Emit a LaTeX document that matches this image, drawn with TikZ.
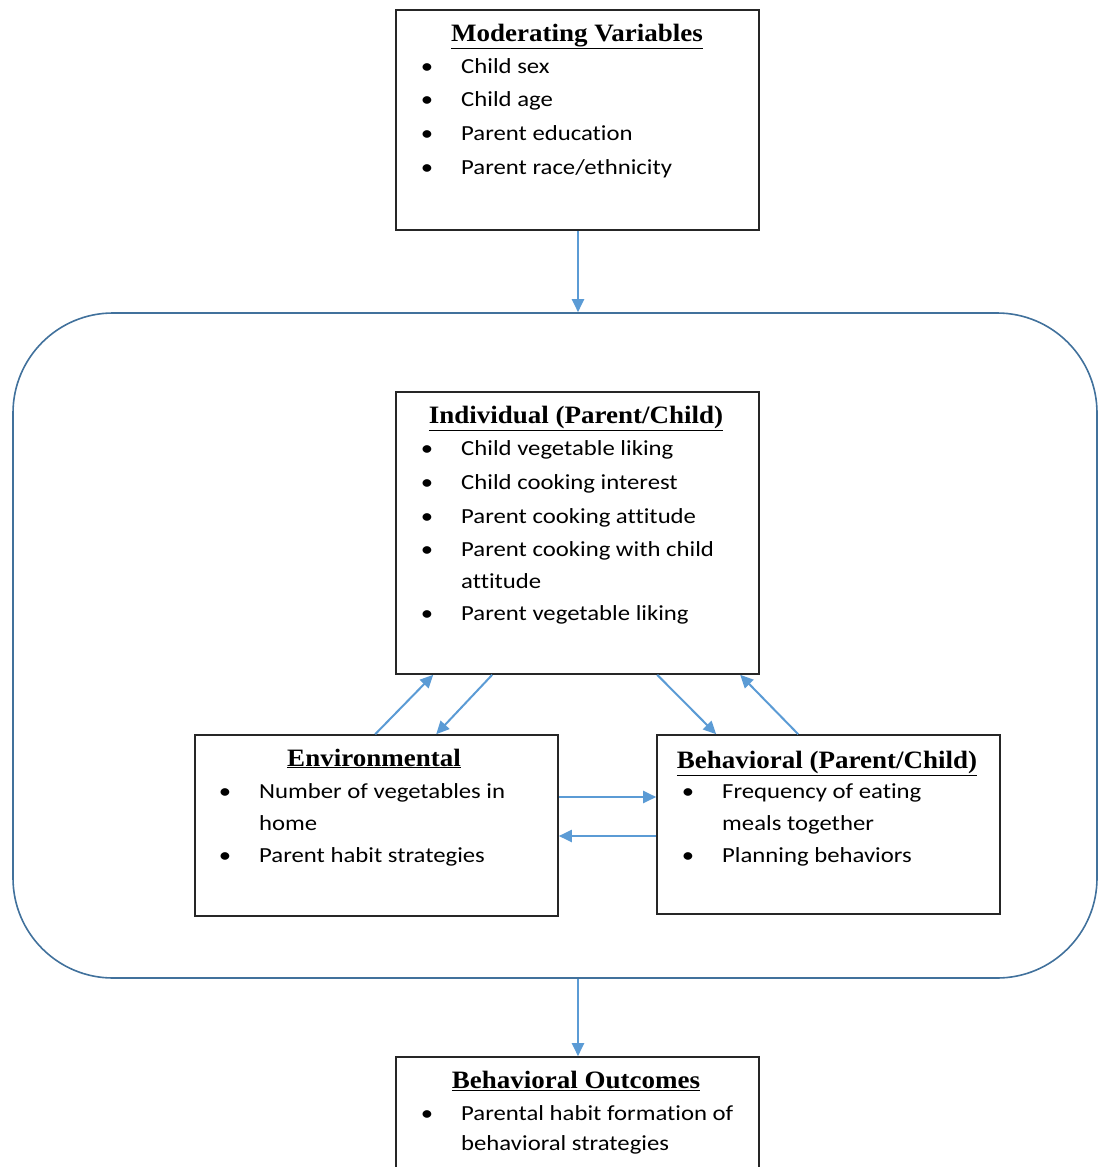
\documentclass[tikz,border=0pt]{standalone}
\usepackage{fontspec}
\setmainfont[FakeStretch=1.08]{Liberation Serif}
\newfontfamily\itemfont[FakeStretch=1.15,Ligatures=NoCommon]{Carlito}
\usetikzlibrary{arrows.meta}
\definecolor{arrowblue}{HTML}{5B9BD5}
\definecolor{frameblue}{HTML}{41719C}
\begin{document}
\begin{tikzpicture}[x=1pt,y=-1pt,
  box/.style={draw=black!85, line width=1.6pt, inner sep=0pt, minimum width=#1},
  ttl/.style={font=\fontsize{25}{25}\selectfont\bfseries, anchor=base, inner sep=0pt},
  itm/.style={font=\itemfont\fontsize{21.5}{32}\selectfont, anchor=base west, inner sep=0pt},
  bul/.style={font=\itemfont\fontsize{21.5}{32}\selectfont, anchor=base, inner sep=0pt},
  conn/.style={draw=arrowblue, line width=2pt, -{Triangle[length=13pt,width=12pt]}}]
\useasboundingbox (0,0) rectangle (1099,1167);

% outer frame
\node[draw=frameblue, line width=1.6pt, rounded corners=100pt, minimum width=1084pt, minimum height=665pt, inner sep=0pt] (frame) at (555,645.5) {};

% boxes
\node[box=363pt, minimum height=220pt] (mod) at (577.5,120) {};
\node[box=363pt, minimum height=282pt] (ind) at (577.5,533) {};
\node[box=363pt, minimum height=181pt] (env) at (376.5,825.5) {};
\node[box=343pt, minimum height=179pt] (beh) at (828.5,824.5) {};
\node[box=363pt, minimum height=130pt] (out) at (577.5,1122) {};

% Moderating
\node[ttl] (modt) at (577,41) {\underline{Moderating Variables}};
\node[bul] (modb1) at (427,73) {•}; \node[itm] (modi1) at (461,73) {Child sex};
\node[bul] (modb2) at (427,106) {•}; \node[itm] (modi2) at (461,106) {Child age};
\node[bul] (modb3) at (427,140) {•}; \node[itm] (modi3) at (461,140) {Parent education};
\node[bul] (modb4) at (427,174) {•}; \node[itm] (modi4) at (461,174) {Parent race/ethnicity};

% Individual
\node[ttl] (indt) at (576,423) {\underline{Individual (Parent/Child)}};
\node[bul] (indb1) at (427,455) {•}; \node[itm] (indi1) at (461,455) {Child vegetable liking};
\node[bul] (indb2) at (427,489) {•}; \node[itm] (indi2) at (461,489) {Child cooking interest};
\node[bul] (indb3) at (427,523) {•}; \node[itm] (indi3) at (461,523) {Parent cooking attitude};
\node[bul] (indb4) at (427,556) {•}; \node[itm] (indi4) at (461,556) {Parent cooking with child};
\node[itm] (indi4b) at (461,588) {attitude};
\node[bul] (indb5) at (427,620) {•}; \node[itm] (indi5) at (461,620) {Parent vegetable liking};

% Environmental
\node[ttl] (envt) at (374,766) {\underline{Environmental}};
\node[bul] (envb1) at (225,798) {•}; \node[itm] (envi1) at (259,798) {Number of vegetables in};
\node[itm] (envi1b) at (259,830) {home};
\node[bul] (envb2) at (225,862) {•}; \node[itm] (envi2) at (259,862) {Parent habit strategies};

% Behavioral
\node[ttl] (beht) at (827,768) {\underline{Behavioral (Parent/Child)}};
\node[bul] (behb1) at (688,798) {•}; \node[itm] (behi1) at (722,798) {Frequency of eating};
\node[itm] (behi1b) at (722,830) {meals together};
\node[bul] (behb2) at (688,862) {•}; \node[itm] (behi2) at (722,862) {Planning behaviors};

% Outcomes
\node[ttl] (outt) at (576,1088) {\underline{Behavioral Outcomes}};
\node[bul] (outb1) at (427,1120) {•}; \node[itm] (outi1) at (461,1120) {Parental habit formation of};
\node[itm] (outi1b) at (461,1150) {behavioral strategies};

% connectors
\draw[conn] ([xshift=0.5pt]mod.south) -- ([xshift=0.5pt]frame.north -| mod.south);
\draw[conn] ([xshift=0.5pt]frame.south -| out.north) -- ([xshift=0.5pt]out.north);
\draw[conn] ([xshift=181pt]env.north west) -- ([xshift=38pt]ind.south west);
\draw[conn] ([xshift=97pt]ind.south west) -- ([xshift=242pt]env.north west);
\draw[conn] ([xshift=262pt]ind.south west) -- ([xshift=60pt]beh.north west);
\draw[conn] ([xshift=142pt]beh.north west) -- ([xshift=345pt]ind.south west);
\draw[conn] ([yshift=28.5pt]env.east) -- ([yshift=28.5pt]env.east -| beh.west);
\draw[conn] ([yshift=-10.5pt]env.east -| beh.west) -- ([yshift=-10.5pt]env.east);
\end{tikzpicture}
\end{document}
